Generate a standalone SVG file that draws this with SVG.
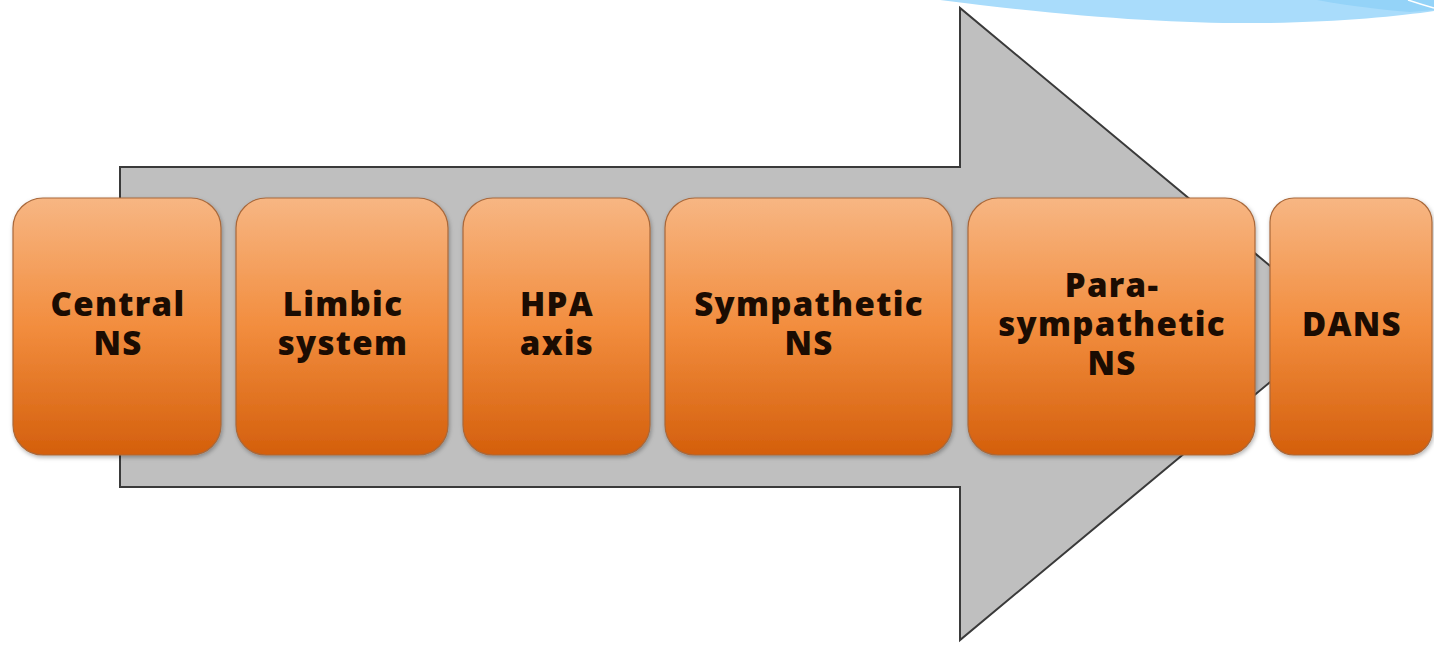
<svg xmlns="http://www.w3.org/2000/svg" width="1434" height="647" viewBox="0 0 1434 647">
<defs>
<linearGradient id="og" x1="0" y1="0" x2="0" y2="1">
<stop offset="0" stop-color="#F7B683"/>
<stop offset="0.5" stop-color="#F28D3E"/>
<stop offset="1" stop-color="#D45F0C"/>
</linearGradient>
<filter id="sh" x="-10%" y="-10%" width="120%" height="120%">
<feDropShadow dx="1" dy="2" stdDeviation="2" flood-color="#000" flood-opacity="0.3"/>
</filter>
</defs>
<style>
.box{fill:url(#og);stroke:#A9683A;stroke-width:1.2;filter:url(#sh)}
.t{font-family:"Open Sans","DejaVu Sans",sans-serif;font-weight:800;font-size:33px;letter-spacing:1.3px;fill:#1B0C02;text-anchor:middle}
</style>
<rect width="1434" height="647" fill="#fff"/>
<g id="deco">
<path d="M940,0 C1080,18 1180,24 1267,23 C1340,22 1400,16 1434,11 L1434,0 Z" fill="#A9DCFB"/>
<path d="M1317,0 C1350,6 1385,10 1410,12 L1434,10 L1434,0 Z" fill="#94D3F8"/>
<path d="M1408,0 Q1420,4 1434,8" stroke="#fff" stroke-width="1.5" fill="none"/>
</g>
<g id="connectors">
<path d="M120,167 L960,167 L960,8 L1340,324 L960,640 L960,487 L120,487 Z" fill="#BFBFBF" stroke="#3A3A3A" stroke-width="2"/>
</g>
<g id="n1"><rect class="box" x="13" y="198" width="208" height="257" rx="30"/>
<text class="t" x="118" y="316">Central</text><text class="t" x="118" y="355">NS</text></g>
<g id="n2"><rect class="box" x="236" y="198" width="212" height="257" rx="30"/>
<text class="t" x="343" y="316">Limbic</text><text class="t" x="343" y="355">system</text></g>
<g id="n3"><rect class="box" x="463" y="198" width="187" height="257" rx="30"/>
<text class="t" x="557" y="316">HPA</text><text class="t" x="557" y="355">axis</text></g>
<g id="n4"><rect class="box" x="665" y="198" width="287" height="257" rx="30"/>
<text class="t" x="809" y="316">Sympathetic</text><text class="t" x="809" y="355">NS</text></g>
<g id="n5"><rect class="box" x="968" y="198" width="287" height="257" rx="30"/>
<text class="t" x="1112" y="297">Para-</text><text class="t" x="1112" y="336">sympathetic</text><text class="t" x="1112" y="375">NS</text></g>
<g id="n6"><rect class="box" x="1270" y="198" width="162" height="257" rx="24"/>
<text class="t" x="1352" y="336">DANS</text></g>
</svg>
